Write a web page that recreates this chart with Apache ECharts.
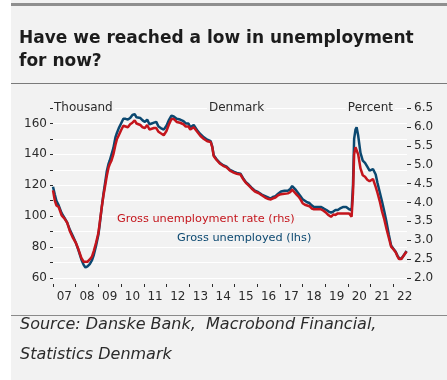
<!DOCTYPE html>
<html>
<head>
<meta charset="utf-8">
<script src="https://cdn.jsdelivr.net/npm/echarts@6/dist/echarts.min.js"></script>
<style>
  html, body { margin: 0; padding: 0; background: #fff; }
  #myChart { width: 447px; height: 380px; }
</style>
</head>
<body>
<div id="myChart"></div>
<script>
// time as year fraction
const dates = [
  2007.00, 2007.08, 2007.15, 2007.25, 2007.38, 2007.50, 2007.62, 2007.75, 2007.88,
  2008.00, 2008.12, 2008.25, 2008.35, 2008.43, 2008.52, 2008.62, 2008.72, 2008.80, 2008.90,
  2009.00, 2009.07, 2009.15, 2009.22, 2009.30, 2009.37, 2009.45, 2009.50, 2009.58, 2009.66, 2009.75, 2009.82, 2009.90,
  2010.00, 2010.10, 2010.20, 2010.30, 2010.40, 2010.50, 2010.60, 2010.68, 2010.75, 2010.85, 2010.95,
  2011.05, 2011.15, 2011.25, 2011.35, 2011.45, 2011.55, 2011.65, 2011.75, 2011.88,
  2012.00, 2012.10, 2012.22, 2012.32, 2012.45, 2012.60, 2012.75, 2012.85, 2012.97,
  2013.05, 2013.12, 2013.20, 2013.27, 2013.38, 2013.50, 2013.65, 2013.80, 2013.95,
  2014.02, 2014.08, 2014.20, 2014.35, 2014.50, 2014.65, 2014.80, 2014.96,
  2015.10, 2015.26, 2015.40, 2015.50, 2015.62, 2015.75, 2015.90,
  2016.05, 2016.20, 2016.35, 2016.50, 2016.60, 2016.70, 2016.80, 2016.92,
  2017.05, 2017.20, 2017.35, 2017.45, 2017.54, 2017.62, 2017.70, 2017.80, 2017.90,
  2018.00, 2018.10, 2018.20, 2018.30, 2018.40, 2018.50, 2018.65, 2018.80, 2018.92,
  2019.05, 2019.15, 2019.25, 2019.35, 2019.45, 2019.55, 2019.65, 2019.80, 2019.92,
  2020.05, 2020.16, 2020.22, 2020.27, 2020.33, 2020.38, 2020.45, 2020.55, 2020.65, 2020.75, 2020.85, 2020.95,
  2021.02, 2021.10, 2021.15, 2021.22, 2021.30, 2021.40, 2021.50, 2021.60, 2021.70, 2021.80, 2021.90,
  2022.00, 2022.10, 2022.18, 2022.25, 2022.35, 2022.45, 2022.58
]
// Gross unemployed, thousand (lhs)
const grossUnemployed = [
  119, 114, 110, 107, 102, 99, 96, 91, 87,
  83, 78, 72, 68.5, 66.8, 67.5, 69, 71.5, 75, 81,
  88, 96, 106, 114, 122, 129, 134, 136, 140, 144, 151, 154, 157,
  160, 163, 163, 162.5, 163.5, 165.5, 166, 164, 165, 163.5, 162,
  161, 162.5, 159.5, 160, 160.5, 161, 158, 157, 156,
  158.5, 162, 165, 164.5, 163, 162.5, 161.5, 160, 160,
  157.5, 157, 159, 158.5, 155, 153, 151, 149.5, 148.5,
  145, 139.5, 137, 134.5, 133, 132, 130, 128.8,
  128, 127.5, 124, 122, 120.5, 118.5, 116.5,
  115.5, 114, 113, 112, 111.5, 112.5, 113, 114.5,
  116, 116.5, 116.5, 117.5, 119.5, 118.5, 117, 115, 113,
  111, 110, 109, 108.5, 107, 106, 106, 106, 105,
  104, 103, 102.3, 103, 104, 104, 105, 106, 106,
  104.5, 104, 120, 150, 156, 157.5, 152, 141, 136, 134.5, 132, 129.5,
  128.5, 130.5, 131, 127, 121.5, 115.5, 109.5, 103, 96, 88, 81,
  79, 77, 74.5, 72.8, 72.5, 74.5, 77.5
]
// Gross unemployment rate, percent (rhs)
const unemploymentRate = [
  4.32, 4.05, 3.92, 3.88, 3.66, 3.58, 3.47, 3.23, 3.06,
  2.94, 2.76, 2.53, 2.43, 2.39, 2.43, 2.49, 2.57, 2.72, 2.94,
  3.19, 3.51, 3.88, 4.17, 4.45, 4.70, 4.93, 5.01, 5.11, 5.27, 5.52, 5.68, 5.78,
  5.91, 6.03, 6.01, 5.99, 6.07, 6.11, 6.17, 6.09, 6.11, 6.05, 5.99,
  5.97, 6.05, 5.93, 5.95, 5.97, 5.97, 5.87, 5.83, 5.78,
  5.89, 6.05, 6.21, 6.21, 6.13, 6.11, 6.07, 6.01, 6.01,
  5.93, 5.91, 5.99, 5.97, 5.85, 5.76, 5.68, 5.62, 5.60,
  5.46, 5.23, 5.13, 5.03, 4.97, 4.93, 4.84, 4.79,
  4.76, 4.74, 4.60, 4.52, 4.45, 4.37, 4.29,
  4.25, 4.19, 4.13, 4.09, 4.08, 4.11, 4.13, 4.19,
  4.22, 4.23, 4.24, 4.27, 4.34, 4.29, 4.23, 4.17, 4.09,
  3.98, 3.94, 3.92, 3.90, 3.84, 3.82, 3.82, 3.82, 3.78,
  3.72, 3.66, 3.62, 3.68, 3.67, 3.71, 3.71, 3.71, 3.71,
  3.71, 3.62, 4.25, 5.27, 5.46, 5.49, 5.27, 4.90, 4.72, 4.68, 4.60, 4.56,
  4.55, 4.62, 4.58, 4.41, 4.25, 4.03, 3.76, 3.55, 3.29, 3.06, 2.83,
  2.76, 2.68, 2.57, 2.50, 2.50, 2.59, 2.70
]
const years = [2007, 2008, 2009, 2010, 2011, 2012, 2013, 2014, 2015, 2016, 2017, 2018, 2019, 2020, 2021, 2022]
const yearLabels = ['07', '08', '09', '10', '11', '12', '13', '14', '15', '16', '17', '18', '19', '20', '21', '22']

const BLUE = '#0b4870'
const RED = '#c4151c'
const TXT = '#2b2b2b'
const BG = '#f2f2f2'
const AXFONT = 'DejaVu Sans'

const chart = echarts.init(document.getElementById('myChart'))

chart.setOption({
  animation: false,
  backgroundColor: BG,
  grid: { left: 53, right: 40, top: 108, bottom: 102 },
  graphic: [
    { type: 'rect', left: 0, top: 0, shape: { width: 11, height: 380 }, style: { fill: '#fff' } },
    { type: 'rect', left: 11, top: 3, shape: { width: 436, height: 3 }, style: { fill: '#8f8f8f' } },
    { type: 'rect', left: 11, top: 83, shape: { width: 436, height: 1 }, style: { fill: '#7a7a7a' } },
    { type: 'rect', left: 11, top: 315, shape: { width: 436, height: 1 }, style: { fill: '#8a8a8a' } },
    {
      type: 'text', left: 19, top: 27,
      style: { text: 'Have we reached a low in unemployment\nfor now?', fill: '#1c1c1c', fontSize: 17, fontWeight: 'bold', fontFamily: 'DejaVu Sans', lineHeight: 23 },
    },
    {
      type: 'text', left: 20, top: 310,
      style: { text: 'Source: Danske Bank,  Macrobond Financial,\nStatistics Denmark', fill: TXT, fontSize: 16, fontStyle: 'italic', fontFamily: 'DejaVu Sans', lineHeight: 30 },
    },
    { type: 'text', left: 53, top: 101, z: 10, style: { text: 'Thousand', fill: TXT, fontSize: 12, fontFamily: AXFONT, backgroundColor: BG, padding: [1, 2, 1, 1] } },
    { type: 'text', left: 207, top: 101, z: 10, style: { text: 'Denmark', fill: TXT, fontSize: 12, fontFamily: AXFONT, backgroundColor: BG, padding: [1, 2, 1, 2] } },
    { type: 'text', right: 52, top: 101, z: 10, style: { text: 'Percent', fill: TXT, fontSize: 12, fontFamily: AXFONT, backgroundColor: BG, padding: [1, 2, 1, 2] } },
    { type: 'text', left: 116, top: 213, z: 10, style: { text: 'Gross unemployment rate (rhs)', fill: RED, fontSize: 11.3, fontFamily: AXFONT, backgroundColor: BG, padding: [1, 1] } },
    { type: 'text', left: 176, top: 232, z: 10, style: { text: 'Gross unemployed (lhs)', fill: BLUE, fontSize: 11.3, fontFamily: AXFONT, backgroundColor: BG, padding: [1, 1] } },
  ],
  xAxis: {
    type: 'value',
    min: 2007,
    max: 2022.6,
    offset: 6,
    axisLine: { show: false },
    splitLine: { show: false },
    axisTick: { show: true, customValues: years, length: 3, lineStyle: { color: TXT } },
    axisLabel: {
      customValues: years.map(y => y + 0.5),
      formatter: v => yearLabels[Math.floor(v) - 2007],
      color: TXT, fontSize: 12, fontFamily: AXFONT, margin: 7,
    },
  },
  yAxis: [
    {
      type: 'value',
      position: 'left',
      min: 60,
      max: 170,
      interval: 10,
      axisLine: { show: false },
      axisTick: { show: true, length: 3, lineStyle: { color: TXT } },
      axisLabel: {
        formatter: v => (v % 20 === 0 && v < 170) ? String(v) : '',
        color: TXT, fontSize: 12, fontFamily: AXFONT, margin: 6,
      },
      splitLine: { lineStyle: { color: '#ffffff', width: 1 } },
    },
    {
      type: 'value',
      position: 'right',
      min: 2,
      max: 6.5,
      interval: 0.5,
      axisLine: { show: false },
      axisTick: { show: true, length: 4, lineStyle: { color: TXT } },
      axisLabel: { formatter: v => v.toFixed(1), color: TXT, fontSize: 12, fontFamily: AXFONT, margin: 7 },
      splitLine: { show: false },
    },
  ],
  series: [
    {
      name: 'Gross unemployed (lhs)',
      type: 'line',
      yAxisIndex: 0,
      showSymbol: false,
      lineStyle: { color: BLUE, width: 2.5 },
      data: dates.map((d, i) => [d, grossUnemployed[i]]),
    },
    {
      name: 'Gross unemployment rate (rhs)',
      type: 'line',
      yAxisIndex: 1,
      showSymbol: false,
      lineStyle: { color: RED, width: 2.5 },
      data: dates.map((d, i) => [d, unemploymentRate[i]]),
    },
  ],
})
</script>
</body>
</html>
